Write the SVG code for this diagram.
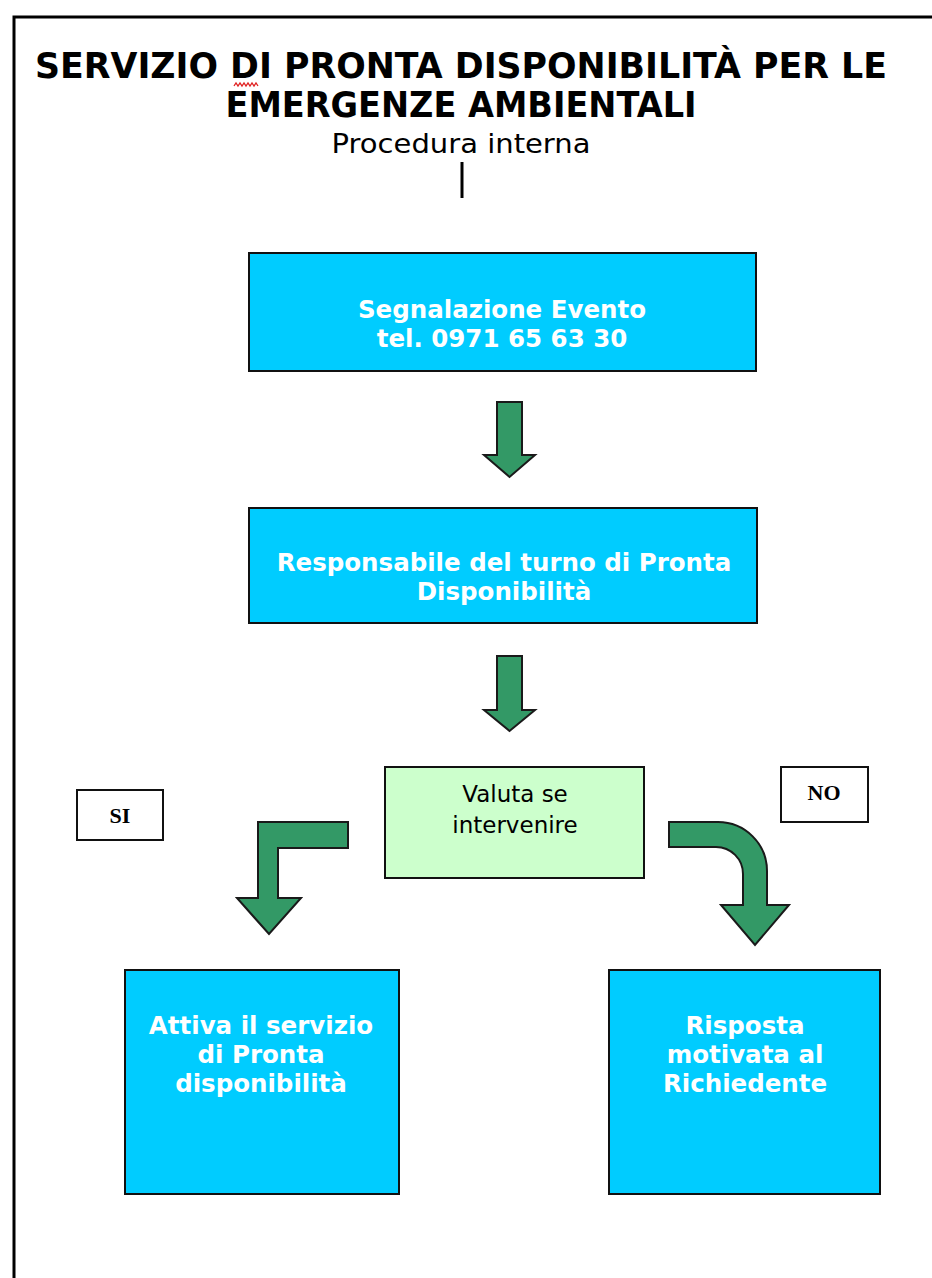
<svg xmlns="http://www.w3.org/2000/svg" width="932" height="1278" viewBox="0 0 932 1278">
<style>
.box{fill:#00CCFF;stroke:#111;stroke-width:2}
.dec{fill:#CCFFCC;stroke:#111;stroke-width:2}
.lbl{fill:#fff;stroke:#111;stroke-width:2}
.arr{fill:#339966;stroke:#1a1a1a;stroke-width:2;stroke-linejoin:miter}
.wt{font-family:"DejaVu Sans",Verdana,sans-serif;font-weight:bold;font-size:24.5px;fill:#fff;text-anchor:middle}
.bt{font-family:"DejaVu Sans",Verdana,sans-serif;font-size:23px;fill:#000;text-anchor:middle}
.st{font-family:"Liberation Serif","Times New Roman",serif;font-weight:bold;font-size:22px;fill:#000;text-anchor:middle}
.title{font-family:"DejaVu Sans",Verdana,sans-serif;font-weight:bold;font-size:35px;fill:#000;text-anchor:middle}
</style>
<rect x="0" y="0" width="932" height="1278" fill="#fff"/>
<path d="M14,1278 V17 H932" fill="none" stroke="#000" stroke-width="3"/>
<g id="title">
<text class="title" x="461" y="78" textLength="852" lengthAdjust="spacingAndGlyphs">SERVIZIO DI PRONTA DISPONIBILITÀ PER LE</text>
<text class="title" x="461" y="117" textLength="471" lengthAdjust="spacingAndGlyphs">EMERGENZE AMBIENTALI</text>
<path d="M234,86 l2,-3 l2,3 l2,-3 l2,3 l2,-3 l2,3 l2,-3 l2,3 l2,-3 l2,3 l2,-3 l2,3" fill="none" stroke="#e02020" stroke-width="1.3"/>
<text x="461" y="153" font-family="DejaVu Sans,Verdana,sans-serif" font-size="27" text-anchor="middle" textLength="259" lengthAdjust="spacingAndGlyphs">Procedura interna</text>
<line x1="462" y1="162" x2="462" y2="198" stroke="#000" stroke-width="3"/>
</g>
<g id="n1">
<rect class="box" x="249" y="253" width="507" height="118"/>
<text class="wt" x="502" y="318">Segnalazione Evento</text>
<text class="wt" x="502" y="347">tel. 0971 65 63 30</text>
</g>
<g id="n2">
<rect class="box" x="249" y="508" width="508" height="115"/>
<text class="wt" x="504" y="571">Responsabile del turno di Pronta</text>
<text class="wt" x="504" y="600">Disponibilità</text>
</g>
<g id="n3">
<rect class="dec" x="385" y="767" width="259" height="111"/>
<text class="bt" x="515" y="802">Valuta se</text>
<text class="bt" x="515" y="833">intervenire</text>
</g>
<g id="si">
<rect class="lbl" x="77" y="790" width="86" height="50"/>
<text class="st" x="120" y="823">SI</text>
</g>
<g id="no">
<rect class="lbl" x="781" y="767" width="87" height="55"/>
<text class="st" x="824" y="800">NO</text>
</g>
<g id="n4">
<rect class="box" x="125" y="970" width="274" height="224"/>
<text class="wt" x="261" y="1034">Attiva il servizio</text>
<text class="wt" x="261" y="1063">di Pronta</text>
<text class="wt" x="261" y="1092">disponibilità</text>
</g>
<g id="n5">
<rect class="box" x="609" y="970" width="271" height="224"/>
<text class="wt" x="745" y="1034">Risposta</text>
<text class="wt" x="745" y="1063">motivata al</text>
<text class="wt" x="745" y="1092">Richiedente</text>
</g>
<g id="connectors">
<path class="arr" d="M497,402 H522 V455 H535 L509.5,477 L484,455 H497 Z"/>
<path class="arr" d="M497,656 H522 V710 H535 L509.5,731 L484,710 H497 Z"/>
<path class="arr" d="M348,822 V848 H278 V898 H301 L269,934 L237,898 H258 V822 Z"/>
<path class="arr" d="M669,822 H718 A49,49 0 0 1 767,871 V905 H789 L755,945 L721,905 H743 V874 A27,27 0 0 0 716,847 H669 Z"/>
</g>
</svg>
